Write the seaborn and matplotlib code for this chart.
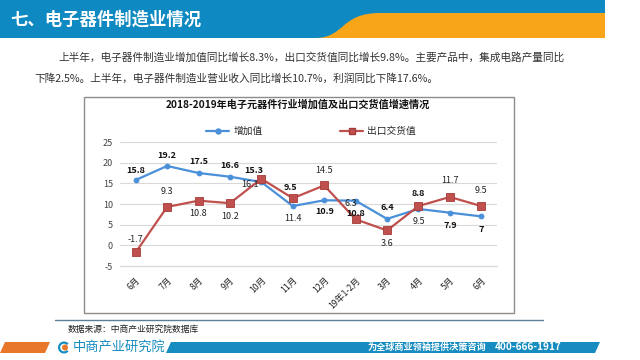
import matplotlib
matplotlib.use("Agg")
import matplotlib.pyplot as plt
import seaborn as sns
import pandas as pd
from matplotlib.patches import Rectangle, Polygon, PathPatch, Wedge
from matplotlib.path import Path
from matplotlib.lines import Line2D

# ---------------- data ----------------
months = ["6月", "7月", "8月", "9月", "10月", "11月", "12月", "19年1-2月", "3月", "4月", "5月", "6月"]
added_value = [15.8, 19.2, 17.5, 16.6, 15.3, 9.5, 10.9, 10.8, 6.4, 8.8, 7.9, 7.0]
export_value = [-1.7, 9.3, 10.8, 10.2, 16.1, 11.4, 14.5, 6.3, 3.6, 9.5, 11.7, 9.5]
series_names = ["增加值", "出口交货值"]
y_ticks = [-5, 0, 5, 10, 15, 20, 25]

header_title = "七、电子器件制造业情况"
para_line1 = "上半年，电子器件制造业增加值同比增长8.3%，出口交货值同比增长9.8%。主要产品中，集成电路产量同比"
para_line2 = "下降2.5%。上半年，电子器件制造业营业收入同比增长10.7%，利润同比下降17.6%。"
chart_title = "2018-2019年电子元器件行业增加值及出口交货值增速情况"
source_text = "数据来源：中商产业研究院数据库"
brand_text = "中商产业研究院"
slogan_text = "为全球商业领袖提供决策咨询"
phone_text = "400-666-1917"

# label offsets in pixels (dx, dy) - styling only
blue_off = [(0, 10), (0, 10), (0, 12), (0, 11), (-8, 12), (-2, 19), (0, -11), (0, -13),
            (0, 11), (0, 15), (0, -13), (0, -13)]
red_off = [(0, 13), (0, 15), (0, -13), (0, -13), (-11, -6), (0, -20), (0, 15), (-5, 16),
           (0, -13), (0, -15), (0, 16), (0, 16)]

BLUE_S = "#4a90d9"
RED_S = "#c0504d"
GRID = "#d9d9d9"

# ---------------- figure ----------------
sns.set_theme(style="white")
plt.rcParams['font.family'] = ['Noto Sans CJK SC', 'DejaVu Sans']
plt.rcParams['axes.unicode_minus'] = False

W, H = 640, 360
fig = plt.figure(figsize=(6.4, 3.6), dpi=100)
fig.patch.set_facecolor("white")

bg = fig.add_axes([0, 0, 1, 1])
bg.set_xlim(0, W)
bg.set_ylim(H, 0)
bg.axis("off")

# header
HB = "#0e89c1"
OR = "#f9a51a"
bg.add_patch(Rectangle((0, 0), 605, 38, color=HB, lw=0))
verts = [(315, 38), (345, 38), (340, 13), (380, 13), (605, 13), (605, 38), (315, 38)]
codes = [Path.MOVETO, Path.CURVE4, Path.CURVE4, Path.CURVE4, Path.LINETO, Path.LINETO, Path.CLOSEPOLY]
bg.add_patch(PathPatch(Path(verts, codes), color=OR, lw=0))
bg.text(10, 20, header_title, color="white", fontsize=12.5, weight="bold", va="center", ha="left")

# paragraph
bg.text(58, 57, para_line1, color="#333333", fontsize=7.7, va="center", ha="left")
bg.text(34, 78, para_line2, color="#333333", fontsize=7.7, va="center", ha="left")

# chart border
bg.add_patch(Rectangle((84, 97), 430, 216, fill=False, ec="#8c8c8c", lw=1.0))

# separator & source
bg.plot([55, 543], [320, 320], color="#5a7f99", lw=1.0)
bg.text(68, 329, source_text, color="#222222", fontsize=6.3, va="center", ha="left")

# footer
FB = "#168cc0"
FO = "#e8772a"
bg.add_patch(Polygon([(0, 353), (5, 342), (50, 342), (45, 353)], color=FO, lw=0))
bg.add_patch(Polygon([(166, 353), (171, 342), (600, 342), (595, 353)], color=FB, lw=0))
bg.add_patch(Wedge((64, 347.5), 6, 40, 320, width=2.2, color=FB, lw=0))
bg.add_patch(Wedge((65, 347.5), 3, 0, 360, color=FO, lw=0))
bg.text(73, 347.5, brand_text, color=FB, fontsize=9.5, va="center", ha="left")
bg.text(368, 347.5, slogan_text, color="white", fontsize=6.6, weight="bold", va="center", ha="left")
bg.text(495, 347.5, phone_text, color="white", fontsize=7.2, weight="bold", va="center", ha="left")

# ---------------- chart ----------------
ax = fig.add_axes([120 / W, 1 - 266 / H, 377 / W, 124 / H])
ax.set_facecolor("none")
x = list(range(len(months)))
df = pd.DataFrame({
    "x": x + x,
    "v": added_value + export_value,
    "s": [series_names[0]] * len(x) + [series_names[1]] * len(x),
})
ax.axhline(y_ticks[0], color=GRID, lw=0.9, clip_on=False, zorder=0)
sns.lineplot(data=df, x="x", y="v", hue="s", style="s",
             palette={series_names[0]: BLUE_S, series_names[1]: RED_S},
             markers={series_names[0]: "o", series_names[1]: "s"},
             dashes=False, linewidth=1.6, ax=ax, legend=False,
             markersize=4.5, markeredgewidth=0.6)
lines = [l for l in ax.get_lines() if len(l.get_xdata()) == len(months)]
if len(lines) >= 2:
    lines[0].set_markersize(3.6)
    lines[0].set_markeredgecolor(BLUE_S)
    lines[1].set_markersize(5.5)
    lines[1].set_markeredgecolor("#a33c39")

ax.set_xlim(-0.5, len(months) - 0.5)
ax.set_ylim(-5, 25)
ax.set_yticks(y_ticks)
ax.set_yticklabels([str(t) for t in y_ticks], fontsize=6.5, color="#444444")
ax.set_xticks(x)
ax.set_xticklabels(months, fontsize=6.3, color="#222222", rotation=45,
                   ha="right", va="top", rotation_mode="anchor")
ax.tick_params(axis="both", length=0, pad=5)
ax.tick_params(axis="x", pad=7)
ax.yaxis.grid(True, color=GRID, lw=0.8)
ax.xaxis.grid(False)
ax.set_axisbelow(True)
for sp in ax.spines.values():
    sp.set_visible(False)
ax.set_xlabel("")
ax.set_ylabel("")

for i, v in enumerate(added_value):
    ax.annotate(f"{v:g}", (i, v), xytext=blue_off[i], textcoords="offset pixels",
                ha="center", va="center", fontsize=6.5, weight="bold", color="#111111")
for i, v in enumerate(export_value):
    ax.annotate(f"{v:g}", (i, v), xytext=red_off[i], textcoords="offset pixels",
                ha="center", va="center", fontsize=6.5, color="#222222")

# chart title & legend
bg.text(298, 105, chart_title, color="#111111", fontsize=7.3, weight="bold", va="center", ha="center")
handles = [Line2D([0], [0], color=BLUE_S, lw=1.6, marker="o", markersize=3.6),
           Line2D([0], [0], color=RED_S, lw=1.6, marker="s", markersize=5, markeredgecolor="#a33c39")]
fig.legend(handles, series_names, loc="center", bbox_to_anchor=(311 / W, 1 - 131 / H),
           ncol=2, frameon=False, fontsize=7, columnspacing=8, handlelength=2.4,
           handletextpad=0.4)

fig.savefig("out.png", dpi=100)
